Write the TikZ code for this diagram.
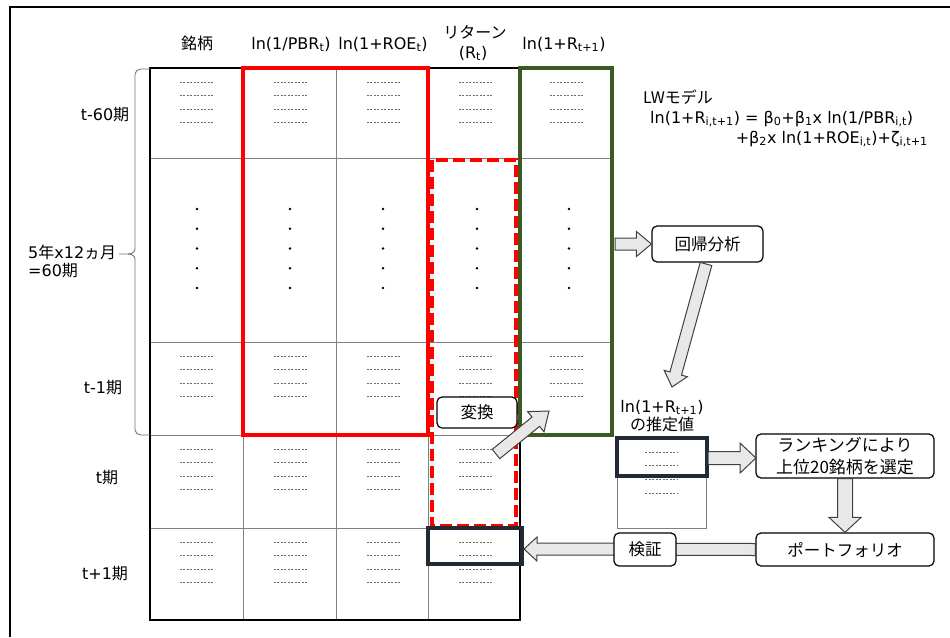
\documentclass[tikz,border=0pt]{standalone}
\usepackage{fontspec}
\setmainfont{DejaVu Sans}
\newfontfamily\jp{Noto Sans CJK JP}
\usetikzlibrary{calc}
\definecolor{myred}{HTML}{FF0000}
\definecolor{mygreen}{HTML}{3A5A23}
\definecolor{mynavy}{HTML}{222A35}
\definecolor{arrowfill}{HTML}{E8E8E8}
\definecolor{arrowline}{HTML}{404040}
\definecolor{gridgray}{HTML}{808080}
\newcommand\sub[1]{\textsubscript{#1}}
% block arrow: from, to, shaft half-width, head half-width, head length
\newcommand\blockarrow[5]{%
  \coordinate (ba-h) at ($(#2)!#5!(#1)$);
  \draw[blockarr] ($(#1)!#3!90:(#2)$) -- ($(ba-h)!#3!90:(#2)$) -- ($(ba-h)!#4!90:(#2)$)
    -- (#2) -- ($(ba-h)!#4!-90:(#2)$) -- ($(ba-h)!#3!-90:(#2)$) -- ($(#1)!#3!-90:(#2)$) -- cycle;
}
\begin{document}
\begin{tikzpicture}[x=1pt,y=-1pt,
  lbl/.style={inner sep=0pt, anchor=base, font=\fontsize{16}{19}\selectfont},
  jlbl/.style={lbl, font=\jp\fontsize{16}{19}\selectfont},
  rbox/.style={draw=black, line width=1.2pt, rounded corners=5pt, fill=white, inner sep=0pt,
    align=center, font=\jp\fontsize{16.5}{21}\selectfont},
  blockarr/.style={draw=arrowline, fill=arrowfill, line width=1pt, line join=miter},
  gridline/.style={draw=gridgray, line width=0.8pt},
  outline/.style={draw=black, line width=1.2pt},
  celldash/.style={draw=gray!85!black, line width=0.7pt, dash pattern=on 2.4pt off 1.1pt},
  redbox/.style={draw=myred, line width=4pt},
  greenbox/.style={draw=mygreen, line width=4pt},
  navybox/.style={draw=mynavy, line width=4.5pt},
  bracestyle/.style={draw=gray!90!black, line width=0.9pt}
]
\useasboundingbox (0,0) rectangle (950,637);
\fill[white] (0,0) rectangle (950,637);
% outer frame
\draw[line width=1.3pt] (10,637) -- (10,7) -- (950,7);

% table grid
\foreach \xx in {243,336,428} \draw[gridline] (\xx,68) -- (\xx,620);
\draw[gridline] (520,68) -- (520,435);
\foreach \yy in {158,342,435} \draw[gridline] (150,\yy) -- (612,\yy);
\draw[gridline] (150,528) -- (520,528);
\draw[outline] (612,68) -- (150,68) -- (150,620) -- (520,620) -- (520,435);

% cell dashes
\foreach \cx in {196,290,383,475}
  \foreach \ry in {68,342,435,528}
    \foreach \d in {14,27,41,54}
      \draw[celldash] (\cx-16.5,\ry+\d) -- (\cx+16.5,\ry+\d);
\foreach \ry in {68,342}
  \foreach \d in {14,27,41,54}
    \draw[celldash] (566-16.5,\ry+\d) -- (566+16.5,\ry+\d);

% dots
\foreach \cx in {197,290,383,477,569}
  \foreach \k in {0,...,4}
    \fill (\cx,209+19.75*\k) circle (1.4pt);

% highlight boxes
\draw[redbox] (243,68) rectangle (428,435);
\draw[greenbox] (520,68) rectangle (612,435);
\draw[myred, line width=4pt, dash pattern=on 12pt off 5pt] (432,160) rectangle (516,526);
\draw[navybox] (428,528) rectangle (522,564);

% small estimated table
\draw[gridline] (617,438) rectangle (706,528);
\foreach \yy in {452,465,479,493} \draw[celldash] (645,\yy) -- (678,\yy);
\draw[navybox] (617,438) rectangle (707,476);

% brace
\draw[bracestyle] (150,69) -- (141,69) to[out=180,in=90] (135,74) -- (135,249)
  to[out=-90,in=0] (128,254) -- (119,254);
\draw[bracestyle] (128,254) to[out=0,in=90] (135,259) -- (135,430)
  to[out=-90,in=180] (141,435) -- (150,435);

% header labels
\node[jlbl] (hmei) at (197,49) {銘柄};
\node[lbl] (hpbr) at (291,49) {ln(1/PBR\sub{t})};
\node[lbl] (hroe) at (383,49) {ln(1+ROE\sub{t})};
\node[jlbl] (hret) at (475,38) {リターン};
\node[lbl] (hrt) at (473,58) {(R\sub{t})};
\node[lbl] (hr1) at (564,49) {ln(1+R\sub{t+1})};

% row labels
\node[lbl] (r60) at (105,120) {t-60{\jp 期}};
\node[lbl, anchor=base west] (r5y) at (28,258) {5{\jp 年}x12{\jp ヵ月}};
\node[lbl, anchor=base west] (r60b) at (28,276) {=60{\jp 期}};
\node[lbl] (r1) at (103,393) {t-1{\jp 期}};
\node[lbl] (rt) at (107,483) {t{\jp 期}};
\node[lbl] (rt1) at (105,579) {t+1{\jp 期}};

% LW model
\node[jlbl, anchor=base west] (lw) at (643,103) {LWモデル};
\node[lbl, anchor=base west] (lw1) at (650,123) {ln(1+R\sub{i,t+1}) = β\sub{0}+β\sub{1}x ln(1/PBR\sub{i,t})};
\node[lbl, anchor=base east] (lw2) at (928,143) {+β\sub{2}x ln(1+ROE\sub{i,t})+ζ\sub{i,t+1}};

% estimated value label
\node[lbl] (est1) at (662,412) {ln(1+R\sub{t+1})};
\node[jlbl] (est2) at (662,430) {の推定値};

% boxes that arrows end at
\node[rbox, minimum width=111pt, minimum height=36pt] (kaiki) at (707.5,244) {回帰分析};
\node[rbox, minimum width=178pt, minimum height=44pt, font=\jp\fontsize{17}{22}\selectfont] (rank) at (845,456) {ランキングにより\\上位20銘柄を選定};
\node[rbox, minimum width=178pt, minimum height=33pt] (port) at (845,549.5) {ポートフォリオ};

% named coordinates for free arrow ends
\coordinate (a1s) at (615,244);
\coordinate (a2s) at (706,264);
\coordinate (a2e) at (672,387);
\coordinate (a3s) at (496,454);
\coordinate (a3e) at (549,411);
\coordinate (a4s) at (708,458);
\coordinate (a4e) at (756,458);
\coordinate (a6e) at (524,549);

% block arrows
\blockarrow{a1s}{kaiki.west}{6pt}{12.5pt}{15pt}
\blockarrow{a2s}{a2e}{6pt}{12pt}{14pt}
\blockarrow{a3s}{a3e}{6pt}{13pt}{17pt}
\blockarrow{a4s}{a4e}{6.5pt}{15pt}{16pt}
\blockarrow{rank.south}{port.north}{7.5pt}{16pt}{15pt}
\blockarrow{port.west}{a6e}{6pt}{12pt}{13pt}

% boxes on top of arrows
\node[rbox, minimum width=80pt, minimum height=31pt] (henkan) at (477,412.5) {変換};
\node[rbox, minimum width=62pt, minimum height=33pt] (kensho) at (645,549.5) {検証};
\end{tikzpicture}
\end{document}
